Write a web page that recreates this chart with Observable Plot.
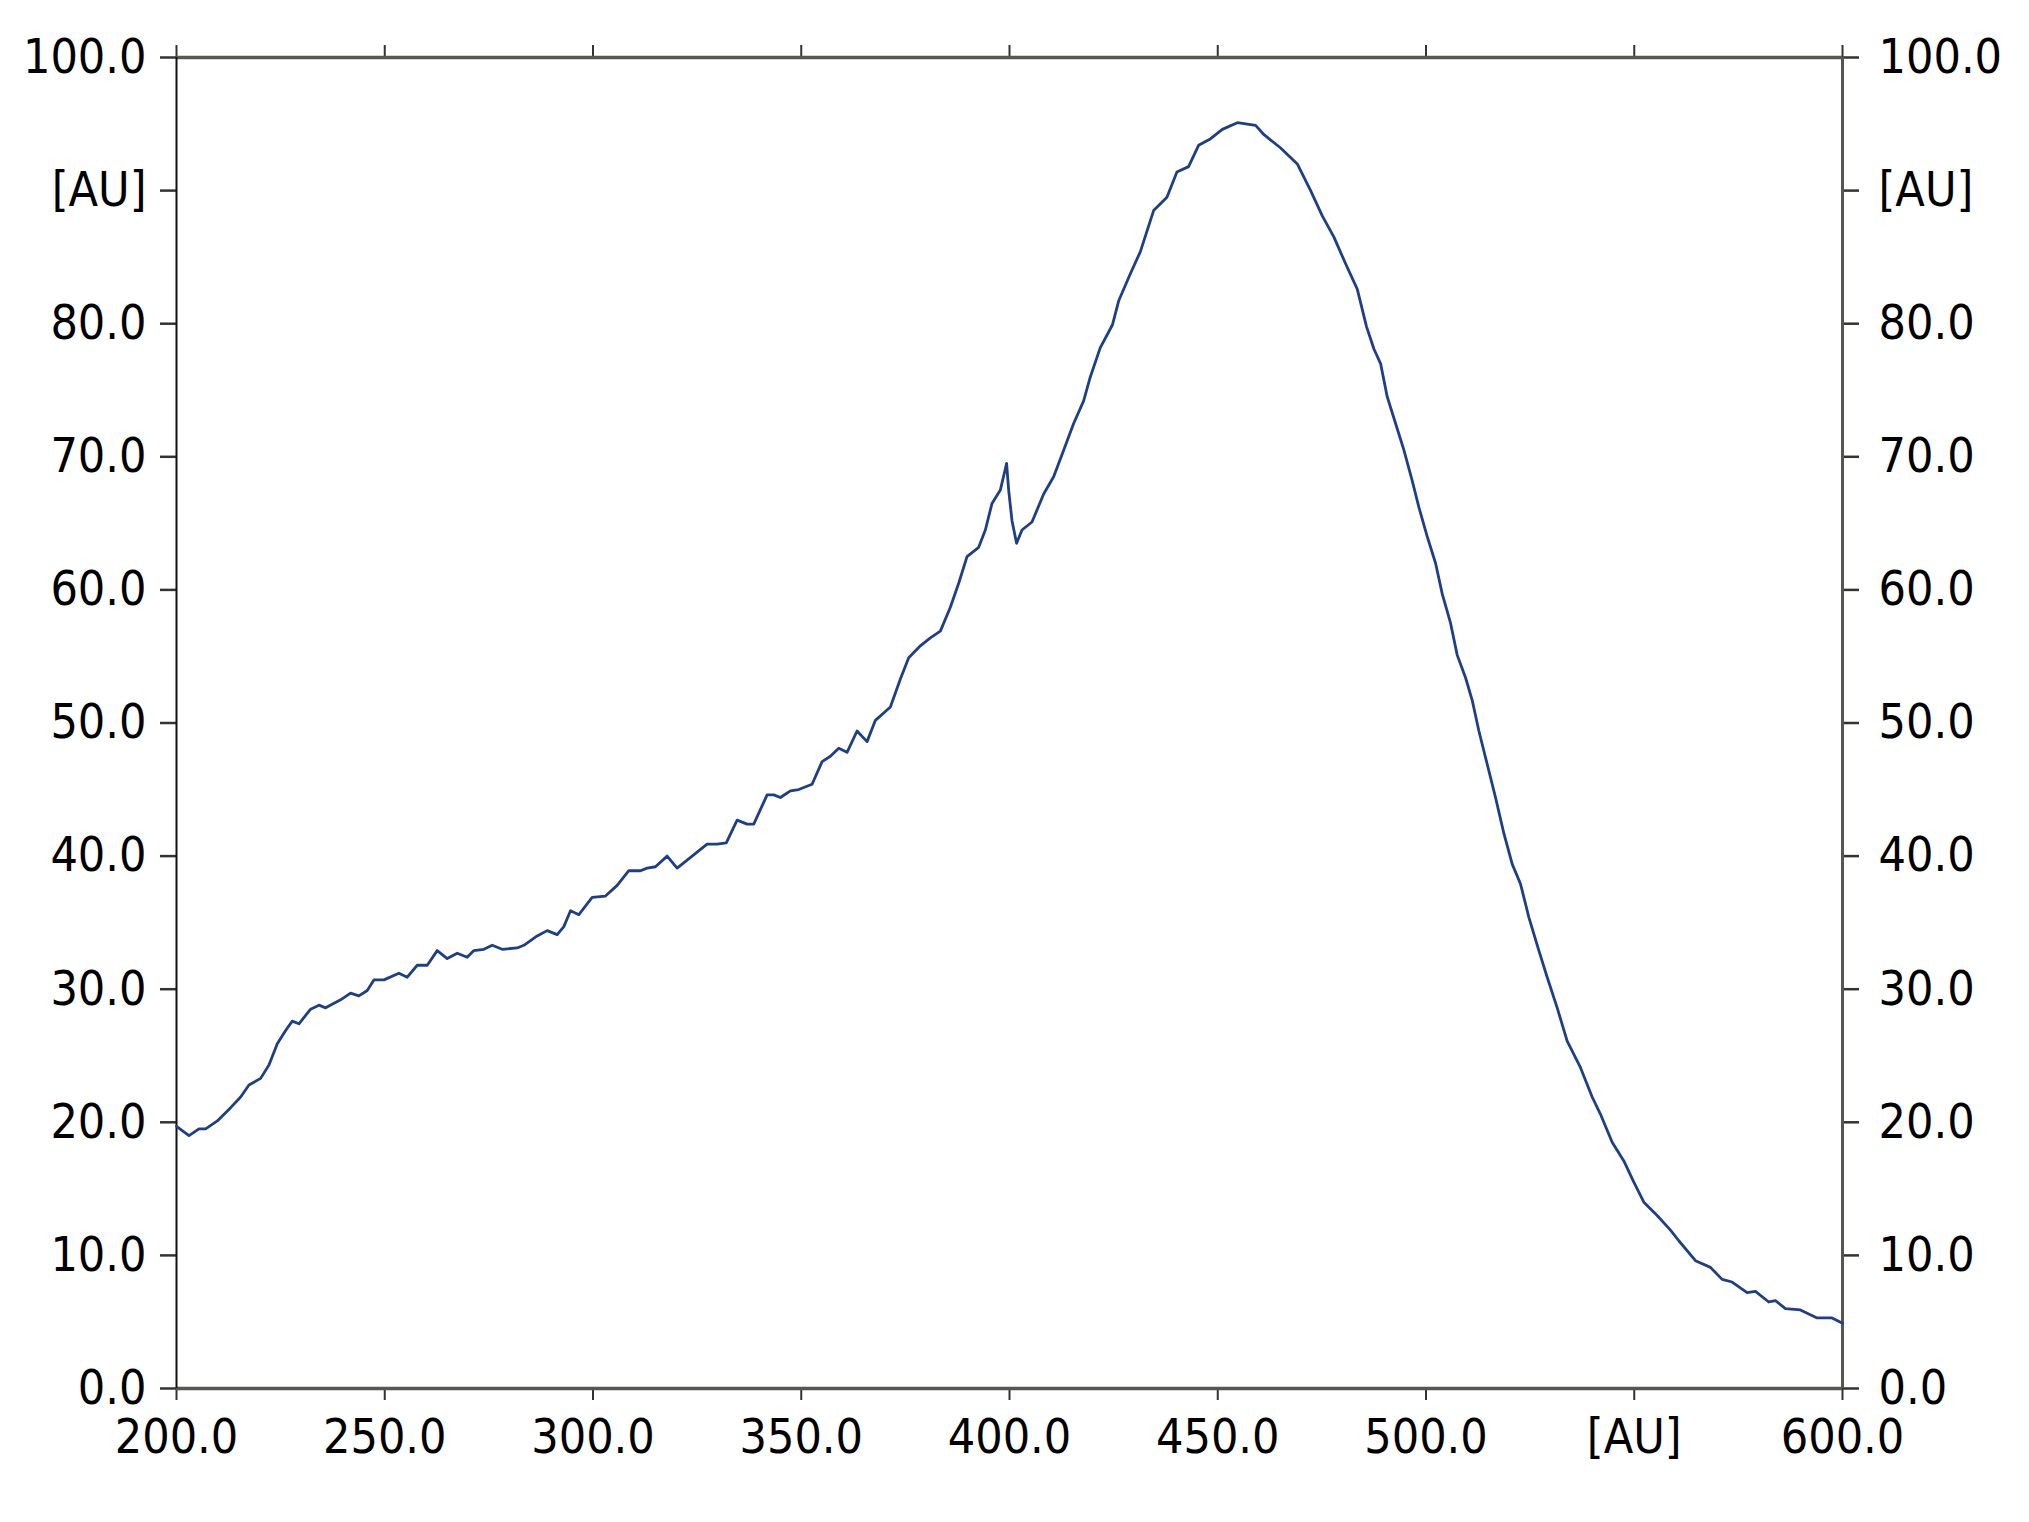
<!DOCTYPE html>
<html>
<head>
<meta charset="utf-8">
<script src="https://cdn.jsdelivr.net/npm/d3@7"></script>
<script src="https://cdn.jsdelivr.net/npm/@observablehq/plot@0.6"></script>
<style>
  html, body { margin: 0; padding: 0; background: #fff; }
  #chart svg { display: block; }
</style>
</head>
<body>
<div id="chart"></div>
<script>
const xDomain = [200, 600];
const yDomain = [0, 100];
const xTicks = [200, 250, 300, 350, 400, 450, 500, 550, 600];
const yTicks = [0, 10, 20, 30, 40, 50, 60, 70, 80, 90, 100];
const xUnitTick = 550;
const yUnitTick = 90;
const unitLabel = "[AU]";

const wavelength = [200, 203, 205.4, 207, 209.8, 213, 215.4, 217.4, 220.2, 222.2, 224.2, 226.2, 227.8, 229.4,
  232.2, 234.2, 235.8, 239.4, 241.8, 243.8, 245.8, 247.4, 249.8, 253.4, 255.4, 257.8, 260.2, 262.6, 265,
  267.4, 269.8, 271.4, 273.8, 275.8, 278.2, 281.8, 283.4, 286.6, 289, 291.4, 293, 294.6, 296.6, 299.8,
  303, 305.8, 308.6, 311.4, 313, 315, 317.8, 320.2, 322.6, 325, 327.4, 329.8, 332, 334.6, 337, 338.6,
  341.8, 343.4, 345, 347.4, 349.4, 352.6, 355, 357, 359, 361, 363.4, 365.8, 367.8, 371.4, 373.8, 375.8,
  378.6, 381, 383.4, 385.8, 387.8, 389.8, 392.6, 394.2, 395.8, 397.8, 399.3, 399.8, 400.6, 401.7, 403,
  405.4, 408.2, 410.6, 413, 415.4, 417.8, 419.4, 421.8, 424.7, 426.2, 428.8, 431.4, 434.6, 437.8, 440.2,
  443, 445.4, 448.3, 451.1, 454.7, 459.1, 461.1, 465.1, 469.1, 472.3, 475.1, 477.9, 480.7, 483.5, 485.7,
  487.5, 489.1, 490.7, 492.7, 494.7, 496.7, 498.3, 500.3, 502.3, 503.9, 505.9, 507.5, 509.5, 511.1,
  512.7, 514.7, 516.7, 518.7, 520.7, 522.7, 524.7, 527.1, 529.1, 531.5, 533.9, 537.1, 539.9, 541.9,
  544.7, 547.5, 549.9, 552.3, 555.5, 558.7, 560.7, 564.7, 568.3, 571.1, 573.5, 577.1, 579.1, 582.3,
  583.9, 586.3, 589.9, 593.9, 597.5, 600];
const intensity = [19.7, 19.0, 19.5, 19.5, 20.1, 21.1, 21.9, 22.8, 23.3, 24.3, 25.9, 26.9, 27.6, 27.4,
  28.5, 28.8, 28.6, 29.2, 29.7, 29.5, 29.9, 30.7, 30.7, 31.2, 30.9, 31.8, 31.8, 32.9, 32.3,
  32.7, 32.4, 32.9, 33.0, 33.3, 33.0, 33.1, 33.3, 34.0, 34.4, 34.1, 34.7, 35.9, 35.6, 36.9,
  37.0, 37.8, 38.9, 38.9, 39.1, 39.2, 40.0, 39.1, 39.7, 40.3, 40.9, 40.9, 41.0, 42.7, 42.4, 42.4,
  44.6, 44.6, 44.4, 44.9, 45.0, 45.4, 47.1, 47.5, 48.1, 47.8, 49.4, 48.6, 50.2, 51.2, 53.3, 54.9,
  55.8, 56.4, 56.9, 58.7, 60.5, 62.5, 63.2, 64.5, 66.5, 67.5, 69.5, 67.5, 65.2, 63.5, 64.5,
  65.1, 67.2, 68.5, 70.5, 72.5, 74.2, 76.0, 78.2, 79.9, 81.7, 83.6, 85.4, 88.5, 89.5, 91.4,
  91.8, 93.4, 93.9, 94.6, 95.1, 94.9, 94.2, 93.2, 92.0, 90.0, 88.1, 86.5, 84.5, 82.6, 79.8,
  78.1, 77.0, 74.5, 72.5, 70.5, 68.2, 66.2, 64.0, 62.0, 59.7, 57.5, 55.1, 53.4, 51.7,
  49.4, 46.9, 44.4, 41.7, 39.4, 37.9, 35.4, 32.9, 30.9, 28.6, 26.1, 24.1, 21.9, 20.6,
  18.5, 17.1, 15.5, 14.0, 13.0, 11.9, 11.1, 9.6, 9.1, 8.2, 8.0, 7.2, 7.3, 6.5,
  6.6, 6.0, 5.9, 5.3, 5.3, 4.9];

const data = wavelength.map((x, i) => ({x, y: intensity[i]}));
const fmt = d3.format(".1f");
const fx = d => d === xUnitTick ? unitLabel : fmt(d);
const fy = d => d === yUnitTick ? unitLabel : fmt(d);

const chart = Plot.plot({
  width: 2029,
  height: 1522,
  marginLeft: 176,
  marginRight: 187,
  marginTop: 57,
  marginBottom: 134,
  style: {
    fontFamily: "'DejaVu Sans Condensed', 'DejaVu Sans', sans-serif",
    fontStretch: "condensed",
    fontSize: "48px",
    color: "#000",
    background: "#fff"
  },
  x: {domain: xDomain},
  y: {domain: yDomain},
  marks: [
    Plot.axisX(xTicks, {anchor: "top", tickSize: 13, tickFormat: () => "", stroke: "#333", strokeWidth: 2, label: null}),
    Plot.axisX(xTicks, {anchor: "bottom", tickSize: 12, tickPadding: 18, tickFormat: fx, stroke: "#333", strokeWidth: 2, fill: "#000", label: null}),
    Plot.axisY(yTicks, {anchor: "left", tickSize: 16, tickPadding: 14, tickFormat: fy, stroke: "#333", strokeWidth: 2.5, fill: "#000", label: null}),
    Plot.axisY(yTicks, {anchor: "right", tickSize: 16, tickPadding: 20, tickFormat: fy, stroke: "#333", strokeWidth: 2.5, fill: "#000", label: null}),
    Plot.ruleY(yDomain, {stroke: "#57574f", strokeWidth: 3.5}),
    Plot.ruleX([xDomain[0]], {stroke: "#111", strokeWidth: 2}),
    Plot.ruleX([xDomain[1]], {stroke: "#57574f", strokeWidth: 3}),
    Plot.line(data, {x: "x", y: "y", stroke: "#1f3f85", strokeWidth: 2.8, strokeLinejoin: "round"})
  ]
});
document.getElementById("chart").append(chart);
</script>
</body>
</html>
